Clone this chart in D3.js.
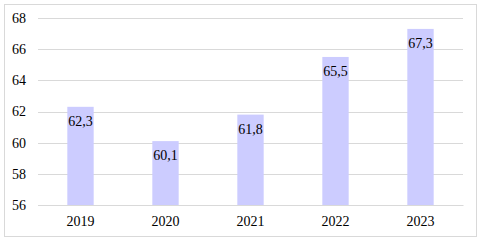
<!DOCTYPE html>
<html><head><meta charset="utf-8">
<script src="https://cdn.jsdelivr.net/npm/d3@7"></script>
<style>html,body{margin:0;padding:0;background:#fff;}svg{display:block;} svg text{font-family:"Liberation Serif", serif !important;}</style>
</head><body>
<script>
const categories = ["2019","2020","2021","2022","2023"];
const values = [62.3, 60.1, 61.8, 65.5, 67.3];
const yTicks = [56, 58, 60, 62, 64, 66, 68];

const W = 482, H = 244;
const svg = d3.select("body").append("svg").attr("width", W).attr("height", H);

svg.append("rect").attr("x", 4.5).attr("y", 4.5).attr("width", 472).attr("height", 232)
  .attr("fill", "#fff").attr("stroke", "#d9d9d9").attr("stroke-width", 1);

const x = d3.scaleBand().domain(categories).range([38, 463]).paddingInner(0.69).paddingOuter(0.345);
const y = d3.scaleLinear().domain([56, 68]).range([205, 18]);

const grid = svg.append("g");
grid.selectAll("line").data(yTicks).join("line")
  .attr("x1", 38).attr("x2", 463)
  .attr("y1", d => Math.round(y(d)) + 0.5).attr("y2", d => Math.round(y(d)) + 0.5)
  .attr("stroke", "#d9d9d9").attr("stroke-width", 1);

const yAxis = svg.append("g").attr("transform", "translate(38,0)")
  .call(d3.axisLeft(y).tickValues(yTicks).tickSize(0).tickPadding(12).tickFormat(d3.format("d")));
yAxis.select(".domain").remove();
yAxis.selectAll("text").style("font-size", "14px").attr("fill", "#000");

svg.selectAll("rect.bar").data(values).join("rect").attr("class", "bar")
  .attr("x", (d, i) => x(categories[i])).attr("width", x.bandwidth())
  .attr("y", d => y(d)).attr("height", d => y(56) - y(d))
  .attr("fill", "#ccccff");

svg.selectAll("text.lbl").data(values).join("text").attr("class", "lbl")
  .attr("x", (d, i) => x(categories[i]) + x.bandwidth() / 2)
  .attr("y", d => y(d) + 19)
  .attr("text-anchor", "middle").style("font-size", "14px").attr("fill", "#000")
  .text(d => d3.format(".1f")(d).replace(".", ","));

const xAxis = svg.append("g").attr("transform", "translate(0,205)")
  .call(d3.axisBottom(x).tickSize(0).tickPadding(11));
xAxis.select(".domain").attr("stroke", "#d9d9d9");
xAxis.selectAll("text").style("font-size", "14px").attr("fill", "#000");
</script>
</body></html>
